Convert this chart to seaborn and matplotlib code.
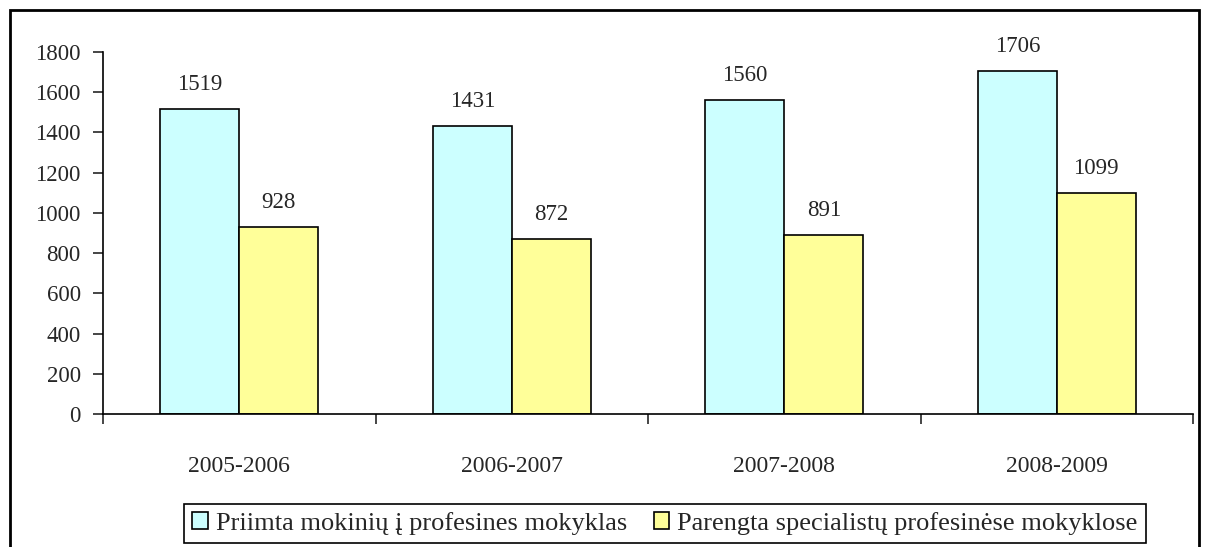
import pandas as pd
import matplotlib.pyplot as plt
import seaborn as sns
from matplotlib.patches import Rectangle

# Chart data
years = ['2005-2006', '2006-2007', '2007-2008', '2008-2009']
priimta = [1519, 1431, 1560, 1706]
parengta = [928, 872, 891, 1099]
series_names = ['Priimta mokinių į profesines mokyklas',
                'Parengta specialistų profesinėse mokyklose']
colors = ['#CCFFFF', '#FFFF99']

df = pd.DataFrame({
    'year': years * 2,
    'value': priimta + parengta,
    'series': [series_names[0]] * len(years) + [series_names[1]] * len(years),
})

sns.set_style('white')
plt.rcParams['font.family'] = ['Liberation Serif', 'DejaVu Serif']
plt.rcParams['font.size'] = 16.5

fig = plt.figure(figsize=(12.09, 5.47), dpi=100)
ax = fig.add_axes([103 / 1209, 1 - 414 / 547, 1090 / 1209, 362 / 547])

sns.barplot(data=df, x='year', y='value', hue='series', palette=colors,
            edgecolor='black', linewidth=1.2, width=0.58, ax=ax,
            saturation=1)

# value labels
for cont in ax.containers:
    ax.bar_label(cont, padding=10, fontsize=16.5)

ax.set_ylim(0, 1800)
ax.set_yticks(range(0, 1801, 200))
ax.set_xlim(-0.5, 3.5)
ax.set_xticks([-0.5, 0.5, 1.5, 2.5, 3.5])
ax.set_xticklabels([])
ax.set_xticks(range(len(years)), minor=True)
ax.set_xticklabels(years, minor=True)
ax.tick_params(axis='x', which='minor', length=0, pad=30, labelsize=17)
ax.tick_params(axis='x', which='major', direction='out', length=7, width=1.2, bottom=True)
ax.tick_params(axis='y', direction='out', length=7, width=1.2, left=True, labelsize=16.5, pad=9)
ax.set_xlabel('')
ax.set_ylabel('')
for s in ['top', 'right']:
    ax.spines[s].set_visible(False)
for s in ['left', 'bottom']:
    ax.spines[s].set_color('black')
    ax.spines[s].set_linewidth(1.2)

# legend at the bottom
handles, labels = ax.get_legend_handles_labels()
ax.get_legend().remove()
leg = fig.legend(handles, labels, loc='lower center', ncol=2,
                 bbox_to_anchor=(665 / 1209, 4 / 547), frameon=True,
                 fancybox=False, edgecolor='black', framealpha=1, fontsize=19,
                 handlelength=0.6, handleheight=0.6, handletextpad=0.3,
                 columnspacing=1.0, borderpad=0.3, borderaxespad=0)
leg.get_frame().set_linewidth(1.2)

# outer chart border
fig.patches.append(Rectangle((10 / 1209, -0.05), 1189 / 1209, 1.05 - 10 / 547,
                             transform=fig.transFigure, fill=False,
                             edgecolor='black', linewidth=2))

fig.savefig('out.png', dpi=100)
